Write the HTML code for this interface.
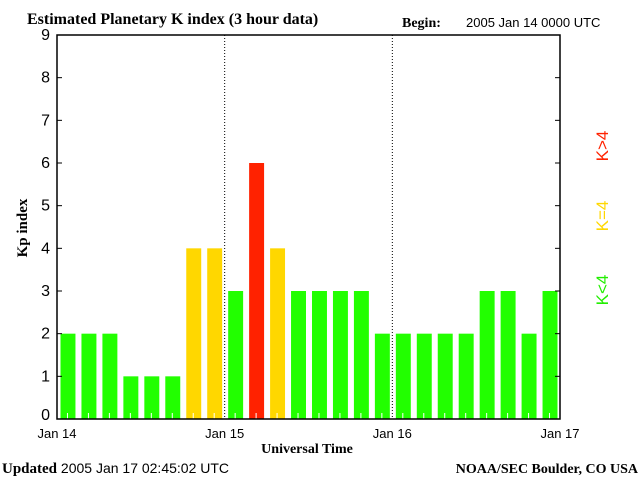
<!DOCTYPE html>
<html><head><meta charset="utf-8"><style>
body{margin:0;background:#fff;}
svg text{font-family:"Liberation Sans",sans-serif;}
.serif{font-family:"Liberation Serif",serif !important;font-weight:bold;}
</style></head><body>
<svg id="chart" width="640" height="480" xmlns="http://www.w3.org/2000/svg">
<text class="serif" x="27" y="24" font-size="16">Estimated Planetary K index (3 hour data)</text>
<text class="serif" x="402" y="27" font-size="14">Begin:</text>
<text x="466" y="27" font-size="13">2005 Jan 14 0000 UTC</text>
<text class="serif" x="0" y="0" font-size="15" transform="translate(27,228) rotate(-90)" text-anchor="middle">Kp index</text>
<text class="serif" x="307" y="453" font-size="14" text-anchor="middle">Universal Time</text>
<text x="2" y="473" font-size="14"><tspan class="serif" font-size="15">Updated</tspan> 2005 Jan 17 02:45:02 UTC</text>
<text class="serif" x="638" y="473" font-size="14" text-anchor="end">NOAA/SEC Boulder, CO USA</text>
<text x="0" y="0" font-size="17" fill="#22ee00" transform="translate(608,290) rotate(-90)" text-anchor="middle">K&lt;4</text>
<text x="0" y="0" font-size="17" fill="#ffd700" transform="translate(608,216) rotate(-90)" text-anchor="middle">K=4</text>
<text x="0" y="0" font-size="17" fill="#ff2200" transform="translate(608,146) rotate(-90)" text-anchor="middle">K&gt;4</text>
<g id="plot"></g>
</svg>
<script>
const kpValues=[2,2,2,1,1,1,4,4,3,6,4,3,3,3,3,2,2,2,2,2,3,3,2,3];
const dayLabels=["Jan 14","Jan 15","Jan 16","Jan 17"];
const yTicks=[0,1,2,3,4,5,6,7,8,9];
const L=57,R=560,T=35,B=419;
const NS="http://www.w3.org/2000/svg";
const g=document.getElementById('plot');
const xs=i=>L+(R-L)*i/kpValues.length;
const ys=v=>B-(B-T)*v/9;
function mk(t,a){const e=document.createElementNS(NS,t);for(const k in a)e.setAttribute(k,a[k]);g.appendChild(e);return e;}
const slot=(R-L)/kpValues.length;
kpValues.forEach((v,i)=>{
 const c=v<4?'#22ff00':(v==4?'#ffd700':'#ff2200');
 const r=mk('rect',{x:xs(i)+3.5,y:ys(v),width:slot-6,height:B-ys(v),fill:c});
 
 
 const t=mk('line',{x1:xs(i)+slot/2,x2:xs(i)+slot/2,y1:B,y2:B-6,stroke:'#fff'});
 
 
});
for(let d=1;d<dayLabels.length-1;d++){
 const x=xs(d*8);
 const l=mk('line',{x1:x,x2:x,y1:T,y2:B,stroke:'#000','stroke-dasharray':'1,2'});
 
 
}
dayLabels.forEach((s,d)=>{
 const t=mk('text',{x:xs(d*8),y:438,'font-size':13,'text-anchor':'middle'});
 t.textContent=s;
 
 
});
yTicks.forEach(v=>{
 const y=ys(v);
 const t=mk('text',{x:50,y:y+5-(v==0?4:0),'font-size':16,'text-anchor':'end'});
 t.textContent=v;
 
 
 const a=mk('line',{x1:L,x2:L+5,y1:y,y2:y,stroke:'#000'});
 
 
 const b=mk('line',{x1:R-5,x2:R,y1:y,y2:y,stroke:'#000'});
 
 
});
const f=mk('rect',{x:L,y:T,width:R-L,height:B-T,fill:'none',stroke:'#000','stroke-width':1.5});


</script>
</body></html>
